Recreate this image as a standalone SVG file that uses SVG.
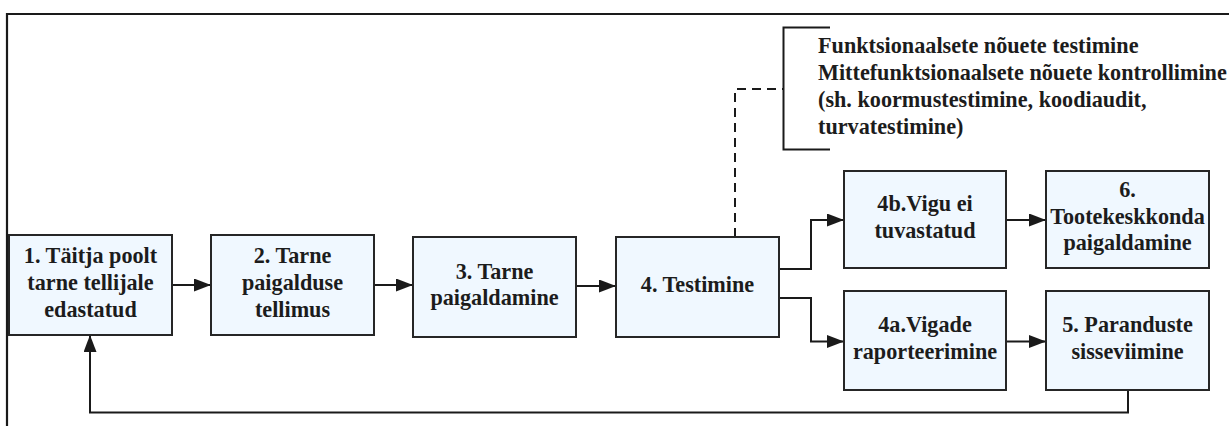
<svg xmlns="http://www.w3.org/2000/svg" width="1229" height="426" viewBox="0 0 1229 426">
  <defs>
    <marker id="arrow" markerUnits="userSpaceOnUse" markerWidth="17" markerHeight="13" refX="17" refY="6.5" orient="auto">
      <path d="M0,0 L17,6.5 L0,13 z" fill="#1a1a1a"/>
    </marker>
    <style>
      text { font-family: 'Liberation Serif', 'Times New Roman', serif; font-weight: 700; font-size: 22.2px; fill: #1c1c1c; }
      .box { fill: #f0f8ff; stroke: #262626; stroke-width: 2; }
      .lbl { text-anchor: middle; }
      .edge { fill: none; stroke: #1a1a1a; stroke-width: 2; }
      .dash { fill: none; stroke: #1a1a1a; stroke-width: 2; stroke-dasharray: 9 6; }
    </style>
  </defs>

  <rect width="1229" height="426" fill="#ffffff"/>

  <!-- outer frame -->
  <path d="M7,430 V14 H1235" fill="none" stroke="#1a1a1a" stroke-width="2.2"/>

  <!-- connectors -->
  <g id="connectors">
    <path class="edge" d="M172,285 H211" marker-end="url(#arrow)"/>
    <path class="edge" d="M374,285 H413" marker-end="url(#arrow)"/>
    <path class="edge" d="M576,286 H616" marker-end="url(#arrow)"/>
    <path class="edge" d="M779,269 H811 V220 H844" marker-end="url(#arrow)"/>
    <path class="edge" d="M779,298 H811 V341.5 H844" marker-end="url(#arrow)"/>
    <path class="edge" d="M1006,220 H1046" marker-end="url(#arrow)"/>
    <path class="edge" d="M1006,341.5 H1046" marker-end="url(#arrow)"/>
    <path class="edge" d="M1128,390 V412.5 H90 V335" marker-end="url(#arrow)"/>
    <path class="dash" d="M735,237 V89 H783"/>
  </g>

  <!-- annotation bracket with notes -->
  <g id="note">
    <path class="edge" d="M830,27.5 H783.5 V149.5 H830"/>
    <text x="818" y="52.5">Funktsionaalsete nõuete testimine</text>
    <text x="818" y="79.5">Mittefunktsionaalsete nõuete kontrollimine</text>
    <text x="818" y="106.5">(sh. koormustestimine, koodiaudit,</text>
    <text x="818" y="133.5">turvatestimine)</text>
  </g>

  <g id="n1">
    <rect class="box" x="9" y="235" width="163" height="100"/>
    <text class="lbl" x="90.5" y="263.3">1. Täitja poolt</text>
    <text class="lbl" x="90.5" y="290">tarne tellijale</text>
    <text class="lbl" x="90.5" y="316.7">edastatud</text>
  </g>

  <g id="n2">
    <rect class="box" x="211" y="235" width="163" height="100"/>
    <text class="lbl" x="292.5" y="263.3">2. Tarne</text>
    <text class="lbl" x="292.5" y="290">paigalduse</text>
    <text class="lbl" x="292.5" y="316.7">tellimus</text>
  </g>

  <g id="n3">
    <rect class="box" x="413" y="237" width="163" height="100"/>
    <text class="lbl" x="494.5" y="278.7">3. Tarne</text>
    <text class="lbl" x="494.5" y="305.3">paigaldamine</text>
  </g>

  <g id="n4">
    <rect class="box" x="616" y="237" width="163" height="100"/>
    <text class="lbl" x="697.5" y="292">4. Testimine</text>
  </g>

  <g id="n4b">
    <rect class="box" x="844" y="171" width="162" height="97"/>
    <text class="lbl" x="925" y="211.2">4b.Vigu ei</text>
    <text class="lbl" x="925" y="237.8">tuvastatud</text>
  </g>

  <g id="n6">
    <rect class="box" x="1046" y="171" width="163" height="97"/>
    <text class="lbl" x="1127.5" y="197">6.</text>
    <text class="lbl" x="1127.5" y="223.5">Tootekeskkonda</text>
    <text class="lbl" x="1127.5" y="250">paigaldamine</text>
  </g>

  <g id="n4a">
    <rect class="box" x="844" y="291" width="162" height="99"/>
    <text class="lbl" x="925" y="332">4a.Vigade</text>
    <text class="lbl" x="925" y="358.5">raporteerimine</text>
  </g>

  <g id="n5">
    <rect class="box" x="1046" y="291" width="163" height="99"/>
    <text class="lbl" x="1127.5" y="332">5. Paranduste</text>
    <text class="lbl" x="1127.5" y="358.5">sisseviimine</text>
  </g>
</svg>
